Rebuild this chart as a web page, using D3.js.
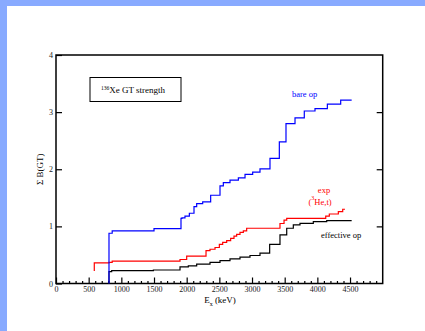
<!DOCTYPE html>
<html>
<head>
<meta charset="utf-8">
<script src="https://cdn.jsdelivr.net/npm/d3@7"></script>
<style>
  body { margin: 0; background: #fff; }
  svg { display: block; }
  .tick text { font-family: "Liberation Serif", serif; font-size: 8px; fill: #222; }
  .tick line { stroke: #000; stroke-width: 1.2; }
</style>
</head>
<body>
<div id="chart"></div>
<script>
'use strict';

// excitation energies (keV) and cumulative B(GT)
const bareE = [811, 811, 860, 1500, 1913, 1928, 1974, 2041, 2112, 2153, 2245, 2367, 2510, 2561, 2663, 2791, 2893, 3010, 3122, 3275, 3418, 3520, 3658, 3800, 3964, 4153, 4357, 4525];
const bareV = [0, 0.88, 0.92, 0.96, 1.14, 1.15, 1.18, 1.23, 1.345, 1.40, 1.43, 1.545, 1.71, 1.765, 1.81, 1.85, 1.91, 1.95, 2.005, 2.19, 2.48, 2.80, 2.90, 3.02, 3.06, 3.14, 3.21, 3.21];

const expE = [586, 586, 811, 860, 1898, 2000, 2296, 2357, 2434, 2500, 2551, 2612, 2673, 2724, 2765, 2816, 2867, 2918, 3428, 3490, 3531, 4128, 4183, 4321, 4388, 4423];
const expV = [0.22, 0.36, 0.37, 0.39, 0.42, 0.48, 0.575, 0.60, 0.63, 0.686, 0.72, 0.75, 0.79, 0.83, 0.86, 0.895, 0.92, 0.967, 1.05, 1.11, 1.14, 1.18, 1.217, 1.257, 1.30, 1.30];

const effE = [811, 811, 852, 1490, 1898, 2025, 2153, 2357, 2510, 2663, 2816, 2969, 3122, 3270, 3428, 3531, 3632, 3734, 3938, 4143, 4525];
const effV = [0, 0.207, 0.224, 0.236, 0.29, 0.31, 0.34, 0.37, 0.40, 0.43, 0.46, 0.49, 0.53, 0.686, 0.85, 0.967, 1.025, 1.054, 1.082, 1.10, 1.10];

const xTicks = [0, 500, 1000, 1500, 2000, 2500, 3000, 3500, 4000, 4500];
const yTicks = [0, 1, 2, 3, 4];

const width = 425, height = 331;
const plotL = 56, plotR = 382.7, plotT = 55, plotB = 283.5;

const svg = d3.select('#chart')
    .append('svg')
    .attr('width', width)
    .attr('height', height);

// blue page border
svg.append('rect').attr('x', 0).attr('y', 0).attr('width', width).attr('height', 6).attr('fill', '#88aaff');
svg.append('rect').attr('x', 0).attr('y', 0).attr('width', 7).attr('height', height).attr('fill', '#88aaff');

const x = d3.scaleLinear().domain([0, 5000]).range([plotL, plotR]);
const y = d3.scaleLinear().domain([0, 4]).range([plotB, plotT]);

// minor ticks on the bottom axis
const minor = d3.range(0, 5001, 100).filter(v => v % 500 !== 0);
svg.append('g')
    .attr('transform', `translate(0,${plotB})`)
    .call(d3.axisBottom(x).tickValues(minor).tickSizeInner(-2.5).tickSizeOuter(0).tickFormat(''))
    .call(g => g.select('.domain').remove());

svg.append('g')
    .attr('transform', `translate(0,${plotB})`)
    .call(d3.axisBottom(x).tickValues(xTicks).tickSizeInner(-6).tickSizeOuter(0)
        .tickPadding(3).tickFormat(d3.format('d')))
    .call(g => g.select('.domain').remove());

svg.append('g')
    .attr('transform', `translate(${plotL},0)`)
    .call(d3.axisLeft(y).tickValues(yTicks).tickSizeInner(-6).tickSizeOuter(0)
        .tickPadding(3).tickFormat(d3.format('d')))
    .call(g => g.select('.domain').remove());

svg.append('g')
    .attr('transform', `translate(${plotR},0)`)
    .call(d3.axisRight(y).tickValues([1, 2, 3]).tickSizeInner(-6).tickSizeOuter(0).tickFormat(''))
    .call(g => g.select('.domain').remove());

// frame
svg.append('rect')
    .attr('x', plotL).attr('y', plotT)
    .attr('width', plotR - plotL).attr('height', plotB - plotT)
    .attr('fill', 'none').attr('stroke', '#000').attr('stroke-width', 1.5);

const line = d3.line()
    .x(d => x(d[0]))
    .y(d => y(d[1]))
    .curve(d3.curveStepAfter);

const series = [
    { e: effE, v: effV, color: '#000000' },
    { e: expE, v: expV, color: '#ff0000' },
    { e: bareE, v: bareV, color: '#0000ff' }
];

svg.selectAll('path.series')
    .data(series)
    .join('path')
    .classed('series', true)
    .attr('d', s => line(s.e.map((e, i) => [e, s.v[i]])))
    .attr('fill', 'none')
    .attr('stroke', s => s.color)
    .attr('stroke-width', 1.2);

const serif = '"Liberation Serif", serif';

// title box
svg.append('rect')
    .attr('x', 90).attr('y', 77.5).attr('width', 91).attr('height', 24)
    .attr('fill', '#fff').attr('stroke', '#000').attr('stroke-width', 1);
const title = svg.append('text')
    .attr('x', 101).attr('y', 93)
    .attr('font-family', serif).attr('font-size', 9);
title.append('tspan').attr('font-size', 5.5).attr('dy', -3.5).text('136');
title.append('tspan').attr('dy', 3.5).text('Xe GT strength');

svg.append('text')
    .attr('x', 292).attr('y', 97)
    .attr('font-family', serif).attr('font-size', 8.5)
    .attr('fill', '#0000ff')
    .text('bare op');

svg.append('text')
    .attr('x', 324).attr('y', 193)
    .attr('text-anchor', 'middle')
    .attr('font-family', serif).attr('font-size', 8.5)
    .attr('fill', '#ff0000')
    .text('exp');
const he = svg.append('text')
    .attr('x', 308.5).attr('y', 205)
    .attr('font-family', serif).attr('font-size', 8.5)
    .attr('fill', '#ff0000');
he.append('tspan').text('(');
he.append('tspan').attr('font-size', 6).attr('dy', -5).text('3');
he.append('tspan').attr('dy', 5).text('He,t)');

svg.append('text')
    .attr('x', 321).attr('y', 238)
    .attr('font-family', serif).attr('font-size', 8.5)
    .attr('fill', '#000')
    .text('effective op');

// axis titles
const xt = svg.append('text')
    .attr('x', 220).attr('y', 303)
    .attr('text-anchor', 'middle')
    .attr('font-family', serif).attr('font-size', 9);
xt.append('tspan').text('E');
xt.append('tspan').attr('font-size', 6).attr('dy', 3).text('x');
xt.append('tspan').attr('dy', -3).text(' (keV)');

svg.append('text')
    .attr('transform', `translate(43,${(plotT + plotB) / 2}) rotate(-90)`)
    .attr('text-anchor', 'middle')
    .attr('font-family', serif).attr('font-size', 9)
    .text('Σ B(GT)');
</script>
</body>
</html>
